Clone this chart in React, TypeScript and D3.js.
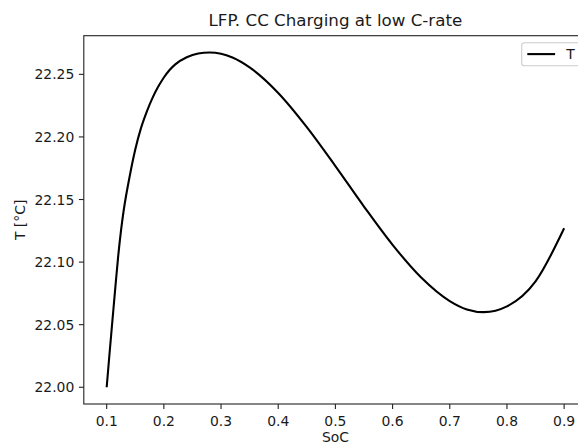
import React from "react";
import * as d3 from "d3";

const soc = [
  0.1, 0.105, 0.11, 0.115, 0.12, 0.125, 0.13, 0.14, 0.15, 0.16, 0.17, 0.18, 0.19, 0.2, 0.21, 0.22,
  0.24, 0.26, 0.28, 0.3, 0.32, 0.35, 0.4, 0.45, 0.5, 0.55, 0.6, 0.65, 0.7, 0.73, 0.76, 0.8, 0.85, 0.9,
];
const temp = [
  22.0, 22.027, 22.053, 22.079, 22.104, 22.125, 22.142, 22.168, 22.19, 22.207, 22.22, 22.231, 22.24,
  22.2475, 22.2535, 22.258, 22.2637, 22.2667, 22.2675, 22.2665, 22.2634, 22.2555, 22.2351, 22.2078,
  22.1767, 22.1444, 22.1138, 22.0877, 22.0689, 22.0622, 22.06, 22.0646, 22.0846, 22.127,
];
const xTicks = [0.1, 0.2, 0.3, 0.4, 0.5, 0.6, 0.7, 0.8, 0.9];
const yTicks = [22.0, 22.05, 22.1, 22.15, 22.2, 22.25];
const title = "LFP. CC Charging at low C-rate";
const xLabel = "SoC";
const yLabel = "T [°C]";
const seriesName = "T";

export default function App() {
  const W = 578;
  const H = 445;
  const left = 83.8;
  const right = 587;
  const top = 35.7;
  const bottom = 404;
  const font = "DejaVu Sans, sans-serif";
  const txt = "#1a1a1a";

  const xmin = d3.min(soc)!;
  const xmax = d3.max(soc)!;
  const xpad = (xmax - xmin) * 0.05;
  const ymin = d3.min(temp)!;
  const ymax = d3.max(temp)!;
  const ypad = (ymax - ymin) * 0.05;

  const x = d3.scaleLinear().domain([xmin - xpad, xmax + xpad]).range([left, right]);
  const y = d3.scaleLinear().domain([ymin - ypad, ymax + ypad]).range([bottom, top]);

  const pts = soc.map((s, i) => [s, temp[i]] as [number, number]);
  const line = d3
    .line<[number, number]>()
    .x((d) => x(d[0]))
    .y((d) => y(d[1]))
    .curve(d3.curveMonotoneX);

  const legX = 521.7;
  const legY = 42.7;

  return (
    <div style={{ position: "absolute", left: 0, top: 0 }}>
      <svg width={W} height={H} style={{ display: "block", background: "#fff" }}>
        <defs>
          <clipPath id="plotclip">
            <rect x={left} y={top} width={right - left} height={bottom - top} />
          </clipPath>
        </defs>
        <rect x={0} y={0} width={W} height={H} fill="#fff" />
        <path
          d={line(pts) || ""}
          fill="none"
          stroke="#000"
          strokeWidth={2.1}
          strokeLinejoin="round"
          strokeLinecap="butt"
          clipPath="url(#plotclip)"
        />
        <rect
          x={left}
          y={top}
          width={right - left}
          height={bottom - top}
          fill="none"
          stroke="#222"
          strokeWidth={1.1}
        />
        {xTicks.map((t) => (
          <g key={"x" + t}>
            <line x1={x(t)} x2={x(t)} y1={bottom} y2={bottom + 4.9} stroke="#222" strokeWidth={1.1} />
            <text
              x={x(t)}
              y={bottom + 21.7}
              textAnchor="middle"
              fontFamily={font}
              fontSize={13.9}
              fill={txt}
            >
              {d3.format(".1f")(t)}
            </text>
          </g>
        ))}
        {yTicks.map((t) => (
          <g key={"y" + t}>
            <line x1={left - 4.9} x2={left} y1={y(t)} y2={y(t)} stroke="#222" strokeWidth={1.1} />
            <text
              x={left - 9.5}
              y={y(t)}
              dy="0.36em"
              textAnchor="end"
              fontFamily={font}
              fontSize={13.9}
              fill={txt}
            >
              {d3.format(".2f")(t)}
            </text>
          </g>
        ))}
        <text
          x={(left + right) / 2}
          y={26}
          textAnchor="middle"
          fontFamily={font}
          fontSize={16.7}
          fill={txt}
        >
          {title}
        </text>
        <text
          x={(left + right) / 2}
          y={442}
          textAnchor="middle"
          fontFamily={font}
          fontSize={13.9}
          fill={txt}
        >
          {xLabel}
        </text>
        <text
          transform={`translate(24.5, ${(top + bottom) / 2}) rotate(-90)`}
          textAnchor="middle"
          fontFamily={font}
          fontSize={13.9}
          fill={txt}
        >
          {yLabel}
        </text>
        <rect
          x={legX}
          y={legY}
          width={58.5}
          height={23}
          rx={2.8}
          fill="#fff"
          fillOpacity={0.8}
          stroke="#cccccc"
          strokeWidth={1.1}
        />
        <line x1={legX + 5.6} x2={legX + 33.4} y1={legY + 11.4} y2={legY + 11.4} stroke="#000" strokeWidth={2.1} />
        <text x={legX + 44.5} y={legY + 16.4} fontFamily={font} fontSize={13.9} fill={txt}>
          {seriesName}
        </text>
      </svg>
    </div>
  );
}
